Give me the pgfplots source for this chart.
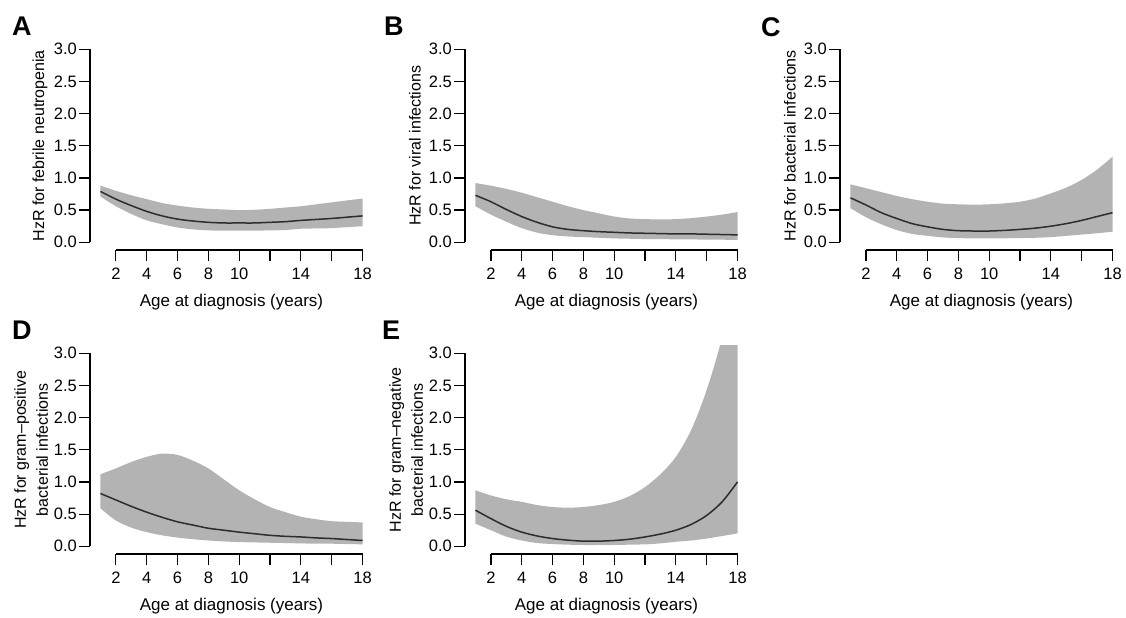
\documentclass[border=0pt]{standalone}
\usepackage{fontspec}
\setmainfont{Liberation Sans}
\usepackage{pgfplots}
\usepackage{pgfplotstable}
\pgfplotsset{compat=1.18}
\usepgfplotslibrary{fillbetween}
\definecolor{band}{RGB}{179,179,179}
\definecolor{curve}{RGB}{45,45,45}

% x  mean  lower  upper
\pgfplotstableread{
x m lo hi
1 0.79 0.71 0.88
2 0.67 0.56 0.80
3 0.57 0.44 0.73
4 0.48 0.34 0.67
5 0.41 0.28 0.61
6 0.36 0.23 0.57
7 0.33 0.20 0.54
8 0.31 0.185 0.52
9 0.30 0.18 0.51
10 0.30 0.18 0.50
11 0.30 0.18 0.505
12 0.31 0.185 0.52
13 0.32 0.19 0.54
14 0.34 0.21 0.56
15 0.355 0.215 0.59
16 0.37 0.22 0.62
17 0.39 0.235 0.65
18 0.41 0.25 0.68
}\tabA
\pgfplotstableread{
x m lo hi
1 0.73 0.56 0.92
2 0.63 0.43 0.88
3 0.51 0.32 0.83
4 0.40 0.22 0.77
5 0.31 0.15 0.70
6 0.24 0.11 0.63
7 0.20 0.09 0.56
8 0.18 0.08 0.50
9 0.165 0.07 0.45
10 0.155 0.06 0.40
11 0.145 0.055 0.37
12 0.14 0.05 0.36
13 0.135 0.05 0.355
14 0.13 0.045 0.36
15 0.13 0.045 0.375
16 0.125 0.04 0.40
17 0.12 0.04 0.43
18 0.115 0.035 0.47
}\tabB
\pgfplotstableread{
x m lo hi
1 0.69 0.53 0.90
2 0.58 0.39 0.84
3 0.46 0.28 0.78
4 0.37 0.19 0.72
5 0.29 0.13 0.67
6 0.24 0.10 0.63
7 0.20 0.075 0.60
8 0.18 0.065 0.59
9 0.175 0.06 0.585
10 0.175 0.06 0.59
11 0.185 0.062 0.605
12 0.20 0.065 0.63
13 0.22 0.07 0.68
14 0.25 0.08 0.76
15 0.29 0.10 0.85
16 0.34 0.12 0.97
17 0.40 0.14 1.13
18 0.46 0.165 1.33
}\tabC
\pgfplotstableread{
x m lo hi
1 0.82 0.59 1.12
2 0.72 0.40 1.21
3 0.62 0.29 1.31
4 0.53 0.22 1.39
5 0.45 0.17 1.44
6 0.38 0.135 1.42
7 0.33 0.11 1.33
8 0.28 0.09 1.21
9 0.25 0.075 1.04
10 0.22 0.065 0.87
11 0.195 0.06 0.73
12 0.17 0.055 0.61
13 0.155 0.05 0.53
14 0.145 0.045 0.46
15 0.13 0.04 0.42
16 0.12 0.04 0.39
17 0.105 0.035 0.38
18 0.09 0.03 0.37
}\tabD
\pgfplotstableread{
x m lo hi
1 0.56 0.35 0.87
2 0.43 0.25 0.79
3 0.31 0.15 0.73
4 0.22 0.09 0.69
5 0.16 0.05 0.64
6 0.12 0.035 0.61
7 0.095 0.025 0.60
8 0.08 0.02 0.61
9 0.08 0.02 0.64
10 0.09 0.02 0.69
11 0.11 0.025 0.78
12 0.145 0.03 0.92
13 0.19 0.045 1.12
14 0.25 0.07 1.39
15 0.34 0.09 1.81
16 0.48 0.12 2.43
17 0.69 0.16 3.25
18 1.00 0.20 4.40
}\tabE

\newcommand{\tkl}{\fontsize{16.5}{20}\selectfont}
\newcommand{\xlb}{\fontsize{17}{20}\selectfont}
\newcommand{\ylb}{\fontsize{16}{22}\selectfont}
\pgfplotsset{
  hzr/.style={
    width=283pt, height=208.5pt, scale only axis,
    anchor=south west,
    xmin=0.32, xmax=18.68, ymin=-0.12, ymax=3.12,
    axis x line*=bottom, axis y line*=left,
    axis line style={draw=none},
    tick align=outside, major tick length=11pt,
    tick style={black, line width=1.2pt},
    xtick={2,4,...,18}, xticklabels={2,4,6,8,10,,14,,18},
    ytick={0,0.5,...,3},
    /pgf/number format/assume math mode=true,
    yticklabel style={inner sep=0pt, xshift=-2pt,
      /pgf/number format/fixed, /pgf/number format/fixed zerofill,
      /pgf/number format/precision=1},
    xticklabel style={inner sep=0pt, yshift=-7pt},
    tick label style={font=\tkl},
    xlabel={Age at diagnosis (years)},
    xlabel style={at={(axis description cs:0.5,-0.25)}, anchor=center, font=\xlb},
    ylabel style={at={(axis description cs:-0.177,0.5)}, anchor=center, font=\ylb, align=center},
    clip mode=individual,
  },
  band/.style={draw=none, fill=band},
  est/.style={curve, line width=1.5pt, smooth},
}
\newcommand{\axlines}{%
  \draw[line width=1.2pt, black] (axis cs:2,-0.12) -- (axis cs:18,-0.12);
  \draw[line width=1.2pt, black] (axis cs:0.32,0) -- (axis cs:0.32,3);
}

\begin{document}
\begin{tikzpicture}

\begin{axis}[hzr, at={(90pt,-250pt)}, ylabel={HzR for febrile neutropenia}]
  \addplot[name path=hi, draw=none, smooth] table[x=x,y=hi]{\tabA};
  \addplot[name path=lo, draw=none, smooth] table[x=x,y=lo]{\tabA};
  \addplot[band] fill between[of=hi and lo];
  \addplot[est] table[x=x,y=m]{\tabA};
  \axlines
\end{axis}

\begin{axis}[hzr, at={(465pt,-250pt)}, ylabel={HzR for viral infections}]
  \addplot[name path=hi, draw=none, smooth] table[x=x,y=hi]{\tabB};
  \addplot[name path=lo, draw=none, smooth] table[x=x,y=lo]{\tabB};
  \addplot[band] fill between[of=hi and lo];
  \addplot[est] table[x=x,y=m]{\tabB};
  \axlines
\end{axis}

\begin{axis}[hzr, at={(840pt,-250pt)}, ylabel={HzR for bacterial infections}]
  \addplot[name path=hi, draw=none, smooth] table[x=x,y=hi]{\tabC};
  \addplot[name path=lo, draw=none, smooth] table[x=x,y=lo]{\tabC};
  \addplot[band] fill between[of=hi and lo];
  \addplot[est] table[x=x,y=m]{\tabC};
  \axlines
\end{axis}

\begin{axis}[hzr, at={(90pt,-554pt)},
  ylabel={HzR for gram–positive\\bacterial infections},
  ylabel style={at={(axis description cs:-0.208,0.5)}}]
  \addplot[name path=hi, draw=none, smooth] table[x=x,y=hi]{\tabD};
  \addplot[name path=lo, draw=none, smooth] table[x=x,y=lo]{\tabD};
  \addplot[band] fill between[of=hi and lo];
  \addplot[est] table[x=x,y=m]{\tabD};
  \axlines
\end{axis}

\begin{axis}[hzr, at={(465pt,-554pt)},
  ylabel={HzR for gram–negative\\bacterial infections},
  ylabel style={at={(axis description cs:-0.208,0.5)}}]
  \addplot[name path=hi, draw=none, smooth] table[x=x,y=hi]{\tabE};
  \addplot[name path=lo, draw=none, smooth] table[x=x,y=lo]{\tabE};
  \addplot[band] fill between[of=hi and lo];
  \addplot[est] table[x=x,y=m]{\tabE};
  \axlines
\end{axis}

\begin{scope}[every node/.style={anchor=north west, inner sep=0pt,
    font=\fontsize{27}{27}\selectfont\bfseries}]
  \node at (12pt,-17pt) {A};
  \node at (384pt,-17pt) {B};
  \node at (761pt,-17pt) {C};
  \node at (12pt,-321pt) {D};
  \node at (382pt,-321pt) {E};
\end{scope}
\path (0pt,0pt) rectangle (1126pt,-617pt);
\end{tikzpicture}
\end{document}
